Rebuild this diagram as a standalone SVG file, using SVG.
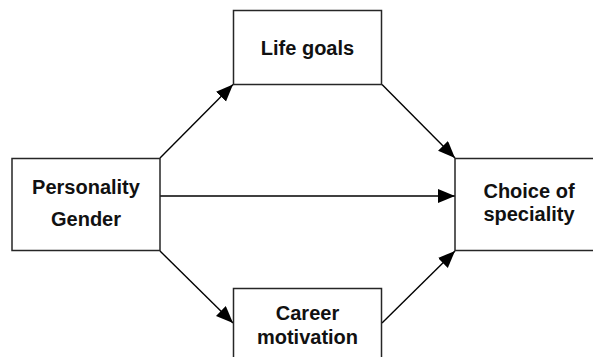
<svg xmlns="http://www.w3.org/2000/svg" width="593" height="357" viewBox="0 0 593 357">
<style>
.box{fill:#fff;stroke:#262626;stroke-width:1.5}
.lbl{font-family:"Liberation Sans",Arial,sans-serif;font-weight:bold;font-size:20px;fill:#111;text-anchor:middle}
.edge{stroke:#000;stroke-width:1.4;fill:none;marker-end:url(#ah)}
</style>
<defs>
<marker id="ah" markerUnits="userSpaceOnUse" markerWidth="18" markerHeight="16" refX="17" refY="7" orient="auto">
<path d="M0,0 L17,7 L0,14 Z" fill="#000"/>
</marker>
</defs>
<rect width="593" height="357" fill="#fff"/>
<g id="connectors">
<line class="edge" x1="160" y1="158" x2="233" y2="84.5"/>
<line class="edge" x1="382" y1="84.5" x2="455" y2="158"/>
<line class="edge" x1="160" y1="196" x2="455" y2="196"/>
<line class="edge" x1="160" y1="251" x2="233" y2="323"/>
<line class="edge" x1="382" y1="323" x2="455" y2="251"/>
</g>
<g id="personality">
<rect class="box" x="12" y="158.5" width="148" height="92"/>
<text class="lbl" x="86" y="194">Personality</text>
<text class="lbl" x="86" y="226">Gender</text>
</g>
<g id="lifegoals">
<rect class="box" x="233.5" y="10.5" width="148" height="74"/>
<text class="lbl" x="307.5" y="55">Life goals</text>
</g>
<g id="career">
<rect class="box" x="233.5" y="288.5" width="148" height="80"/>
<text class="lbl" x="307.5" y="320">Career</text>
<text class="lbl" x="307.5" y="344">motivation</text>
</g>
<g id="choice">
<rect class="box" x="455" y="158.5" width="150" height="92"/>
<text class="lbl" x="529" y="198">Choice of</text>
<text class="lbl" x="529" y="221">speciality</text>
</g>
</svg>
